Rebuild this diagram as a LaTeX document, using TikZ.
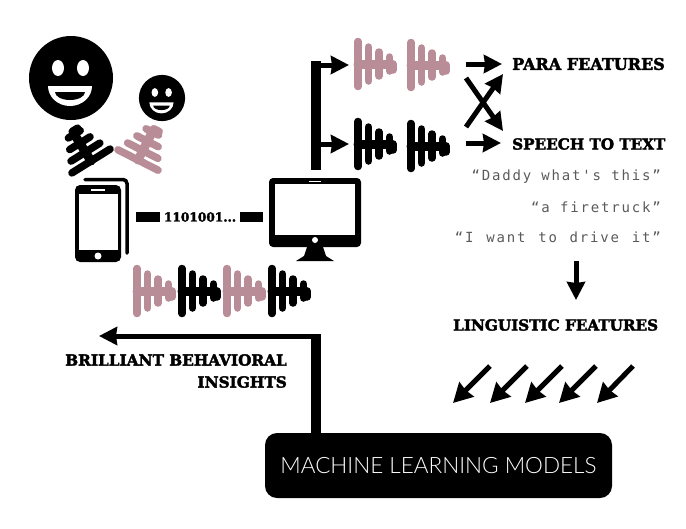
\documentclass[tikz,border=0pt]{standalone}
\usepackage{fontspec}
\usetikzlibrary{arrows.meta}
\usetikzlibrary{positioning}
\newfontfamily\slabfont[FakeBold=2.5]{DejaVu Serif Bold}
\newfontfamily\quotefont[LetterSpace=13]{DejaVu Sans Mono}
\newfontfamily\modelfont{Lato Light}
\definecolor{wavepink}{HTML}{B98D97}
\definecolor{quotegray}{HTML}{5A5A5A}
\tikzset{
    heading/.style={font=\slabfont\fontsize{15.2}{18}\selectfont,inner sep=0pt},
    quote/.style={font=\quotefont\fontsize{14}{16}\selectfont,text=quotegray,inner sep=0pt},
    thinarrow/.style={line width=5pt,-{Stealth[length=18pt,width=18pt,inset=1pt]}},
    midarrow/.style={line width=5pt,-{Stealth[length=18pt,width=18pt,inset=1pt]}},
    diagarrow/.style={line width=5pt,-{Stealth[length=19pt,width=20pt,inset=1pt]}},
    wave/.pic={
        \foreach \dx/\hh in {0/22.5,10.5/17,21/12,31.5/7}
            \draw[line width=7.5pt,line cap=round,pic actions] (\dx,-\hh) -- (\dx,\hh);
        \draw[line width=9pt,line cap=round,pic actions] (0,0) -- (34,0);
        \draw[line width=7.5pt,line cap=round,pic actions] (35,-6) -- (35,0);
    },
    smiley/.pic={
        \fill[black] (0,0) circle (42);
        \fill[white] (-13,10) ellipse (6 and 8) (12,10) ellipse (6 and 8);
        \fill[white] (-23,-8) -- (21,-8) arc (0:-180:22 and 20) -- cycle;
        \fill[black] (-16,-14) -- (14,-14) arc (0:-180:15 and 8) -- cycle;
    }
}
\begin{document}
\begin{tikzpicture}[x=1pt,y=1pt]
    \useasboundingbox (0,0) rectangle (686,-528);

    % faces
    \pic at (71,-78) {smiley};
    \pic[scale=.55] at (162,-98) {smiley};
    \pic[black,rotate=122] at (91,-161) {wave};
    \pic[wavepink,rotate=63] at (138,-160) {wave};

    % phone
    \draw[line width=3.5pt,rounded corners=4pt,line cap=round] (85,-179.5) -- (127,-179.5) -- (127,-253);
    \node[fill=black,rounded corners=5pt,minimum width=46pt,minimum height=77pt,inner sep=0pt] (phone) at (98,-223.5) {};
    \node[fill=white,minimum width=39pt,minimum height=56pt,inner sep=0pt] (phonescreen) at (98,-222) {};
    \fill[white] (98,-256) circle (3.5);
    \fill[white] (91,-189) rectangle (105,-190.5);

    % link
    \node[heading,font=\slabfont\fontsize{12.2}{14}\selectfont] (bits) at (200,-217) {1101001...};
    \fill[black] (136,-212) rectangle (160,-222);
    \fill[black] (240,-212) rectangle (263,-222);

    % monitor
    \node[fill=black,rounded corners=4pt,minimum width=92pt,minimum height=69pt,inner sep=0pt] (monitor) at (315,-212.5) {};
    \node[fill=white,minimum width=80pt,minimum height=51pt,inner sep=0pt] (monitorscreen) at (315,-209.5) {};
    \fill[white] (315,-240) circle (3);
    \fill[white] (309,-180.5) rectangle (321,-182);
    \fill[black] (307,-247) -- (323,-247) -- (326,-256) -- (334,-261) -- (296,-261) -- (304,-256) -- cycle;

    % waves
    \pic[wavepink] at (137,-291) {wave};
    \pic[black] at (182,-291) {wave};
    \pic[wavepink] at (227,-291) {wave};
    \pic[black] at (272,-291) {wave};
    \pic[wavepink] at (358,-64) {wave};
    \pic[wavepink] at (411,-65) {wave};
    \pic[black] at (358,-144) {wave};
    \pic[black] at (411,-146) {wave};

    % branch
    \coordinate (stem) at (316,-170);
    \coordinate (stemtop) at (316,-61);
    \coordinate (stemup) at (311,-65);
    \coordinate (stemmid) at (316,-144);
    \coordinate (parawave) at (349,-65);
    \coordinate (speechwave) at (349,-144);
    \draw[line width=10pt] (stem) -- (stemtop);
    \draw[thinarrow] (stemup) -- (parawave);
    \draw[thinarrow] (stemmid) -- (speechwave);

    % features
    \node[heading,anchor=west,font=\slabfont\fontsize{16}{18}\selectfont] (para) at (512,-64) {PARA FEATURES};
    \node[heading,anchor=west] (speech) at (512,-144) {SPEECH TO TEXT};
    \draw[midarrow] (466,-64) -- (502,-64);
    \draw[midarrow] (466,-143) -- (501,-143);
    \draw[midarrow] (466,-78) -- (503,-131);
    \draw[midarrow] (466,-127) -- (503,-74);

    \node[quote,anchor=east] (q1) at (661,-177) {“Daddy what's this”};
    \node[quote,anchor=east] (q2) at (661,-207) {“a firetruck”};
    \node[quote,anchor=east] (q3) at (661,-237) {“I\hspace{2.5pt} want\hspace{2.5pt} to\hspace{2.5pt} drive\hspace{2.5pt} it”};

    \draw[midarrow] (576,-261) -- (576,-300);
    \node[heading,anchor=west] (linguistic) at (453,-325) {LINGUISTIC FEATURES};

    \foreach \tailx/\tipx in {490/453,527/490,562/525,596/559,633/597}
        \draw[diagarrow] (\tailx,-366) -- (\tipx,-403);

    % models
    \node[fill=black,rounded corners=12pt,minimum width=347pt,minimum height=65pt,inner sep=0pt,text=white,font=\modelfont\fontsize{22.5}{26}\selectfont] (models) at (438.5,-465.5) {MACHINE LEARNING MODELS};
    \coordinate (insightcorner) at (321,-336);
    \coordinate (insighttip) at (99,-336);
    \draw[line width=10pt] (models.north -| 316,0) -- (316,-334);
    \draw[thinarrow] (insightcorner) -- (insighttip);
    \node[heading,align=right,anchor=east,font=\slabfont\fontsize{15.3}{22}\selectfont] (insights) at (287,-371) {BRILLIANT BEHAVIORAL\\INSIGHTS};
\end{tikzpicture}
\end{document}
